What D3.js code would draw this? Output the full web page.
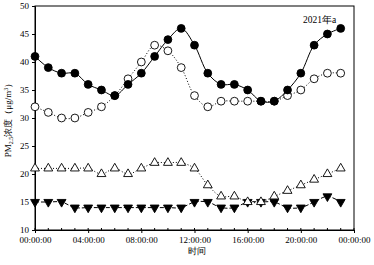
<!DOCTYPE html>
<html><head><meta charset="utf-8">
<script src="https://cdn.jsdelivr.net/npm/d3@7/dist/d3.min.js"></script>
<style>body{margin:0;background:#fff}svg{display:block}</style>
</head><body>
<script>
const hours = d3.range(0, 24);
const seriesA = [41,39,38,38,36,35,34,36,38,41,44,46,43,38,36,36,35,33,33,35,38,43,45,46];
const seriesB = [32,31,30,30,31,32,34,37,40,43,42,39,34,32,33,33,33,33,33,34,35,37,38,38];
const seriesC = [21,21,21,21,21,20,21,20,21,22,22,22,21,18,16,16,15,15,16,17,18,19,20,21];
const seriesD = [15,15,15,14,14,14,14,14,14,14,14,14,15,15,14,14,15,15,15,14,14,15,16,15];
const xTickValues = [0,4,8,12,16,20,24];
const xTickLabels = ["00:00:00","04:00:00","08:00:00","12:00:00","16:00:00","20:00:00","00:00:00"];
const yTicks = [10,15,20,25,30,35,40,45,50];

const W = 374, H = 265;
const m = {l:35, r:20, t:6, b:35};
const svg = d3.select("body").append("svg").attr("width", W).attr("height", H);
const font = "'Liberation Serif','Times New Roman',serif";

const x = d3.scaleLinear().domain([0,24]).range([m.l, W - m.r]);
const y = d3.scaleLinear().domain([10,50]).range([H - m.b, m.t]);

// frame
svg.append("rect").attr("x", m.l).attr("y", m.t).attr("width", x(24)-m.l).attr("height", y(10)-m.t)
  .attr("fill","none").attr("stroke","#000").attr("stroke-width",1);

// minor x ticks (inward)
svg.append("g").selectAll("line").data(d3.range(0,25)).join("line")
  .attr("x1", d=>x(d)).attr("x2", d=>x(d)).attr("y1", y(10)).attr("y2", y(10)-2)
  .attr("stroke","#000").attr("stroke-width",1);

const xAxis = svg.append("g").attr("transform", `translate(0,${y(10)})`)
  .call(d3.axisBottom(x).tickValues(xTickValues).tickFormat((d,i)=>xTickLabels[i]).tickSize(3).tickPadding(4));
const yAxis = svg.append("g").attr("transform", `translate(${m.l},0)`)
  .call(d3.axisLeft(y).tickValues(yTicks).tickSize(3).tickPadding(3));
[xAxis,yAxis].forEach(g=>{
  g.select(".domain").attr("stroke","#000");
  g.selectAll("text").attr("font-family",font).attr("font-size",9).attr("fill","#000");
});

const line = d3.line().x((d,i)=>x(hours[i])).y(d=>y(d)).curve(d3.curveCatmullRom.alpha(0.5));

function drawSeries(data, dash, symbolType, fill){
  svg.append("path").attr("d", line(data)).attr("fill","none").attr("stroke","#000")
    .attr("stroke-width",1).attr("stroke-dasharray", dash);
  svg.append("g").selectAll("path").data(data).join("path")
    .attr("transform",(d,i)=>`translate(${x(hours[i])},${y(d)})`)
    .attr("d", d3.symbol().type(symbolType).size(symbolType===d3.symbolCircle?48:34))
    .attr("fill", fill).attr("stroke","#000").attr("stroke-width",0.9);
}
const triDown = {draw(ctx,size){const s=Math.sqrt(size/ (Math.sqrt(3)/4)); const h=s*Math.sqrt(3)/2;
  ctx.moveTo(-s/2,-h/3); ctx.lineTo(s/2,-h/3); ctx.lineTo(0,2*h/3); ctx.closePath();}};

drawSeries(seriesD, "4,2", triDown, "#000");
drawSeries(seriesC, "1,2", d3.symbolTriangle, "#fff");
drawSeries(seriesB, "1,2", d3.symbolCircle, "#fff");
drawSeries(seriesA, null, d3.symbolCircle, "#000");

// annotation
svg.append("text").attr("x", 303).attr("y", 23).attr("font-family",font).attr("font-size",9.5).text("2021年a");

// axis titles
svg.append("text").attr("x", (m.l + x(24))/2 + 2).attr("y", 254).attr("text-anchor","middle")
  .attr("font-family",font).attr("font-size",9).attr("font-weight",300).text("时间");
const yl = svg.append("text").attr("transform",`translate(11,${(m.t+y(10))/2}) rotate(-90)`)
  .attr("text-anchor","middle").attr("font-family",font).attr("font-size",9);
yl.append("tspan").text("PM");
yl.append("tspan").attr("font-size",6).attr("dy",2).text("2.5");
yl.append("tspan").attr("dy",-2).text("浓度（μg/m");
yl.append("tspan").attr("font-size",6).attr("dy",-3).text("3");
yl.append("tspan").attr("dy",3).text("）");
</script>
</body></html>
